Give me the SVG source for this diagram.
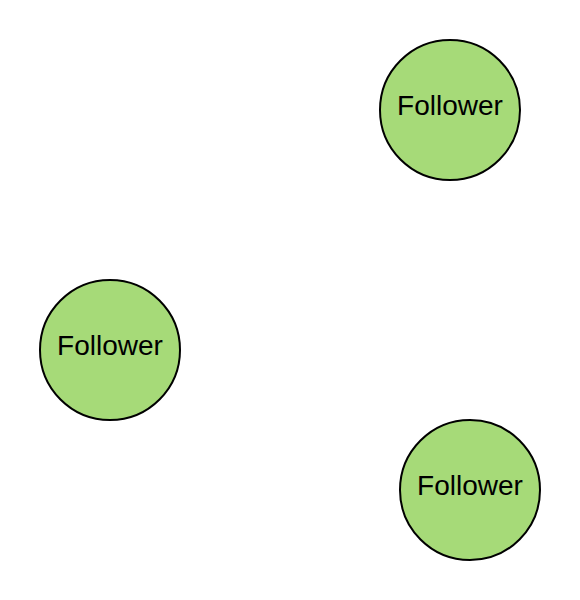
<svg xmlns="http://www.w3.org/2000/svg" width="580" height="600" viewBox="0 0 580 600">
<style>
.n{fill:#a6da78;stroke:#000;stroke-width:2}
.t{font-family:"Liberation Sans",Arial,sans-serif;font-size:28px;fill:#000;text-anchor:middle}
</style>
<rect width="580" height="600" fill="#fff"/>
<g id="connectors"></g>
<g id="node1"><circle class="n" cx="450" cy="110" r="70"/><text class="t" x="450" y="115">Follower</text></g>
<g id="node2"><circle class="n" cx="110" cy="350" r="70"/><text class="t" x="110" y="355">Follower</text></g>
<g id="node3"><circle class="n" cx="470" cy="490" r="70"/><text class="t" x="470" y="495">Follower</text></g>
</svg>
